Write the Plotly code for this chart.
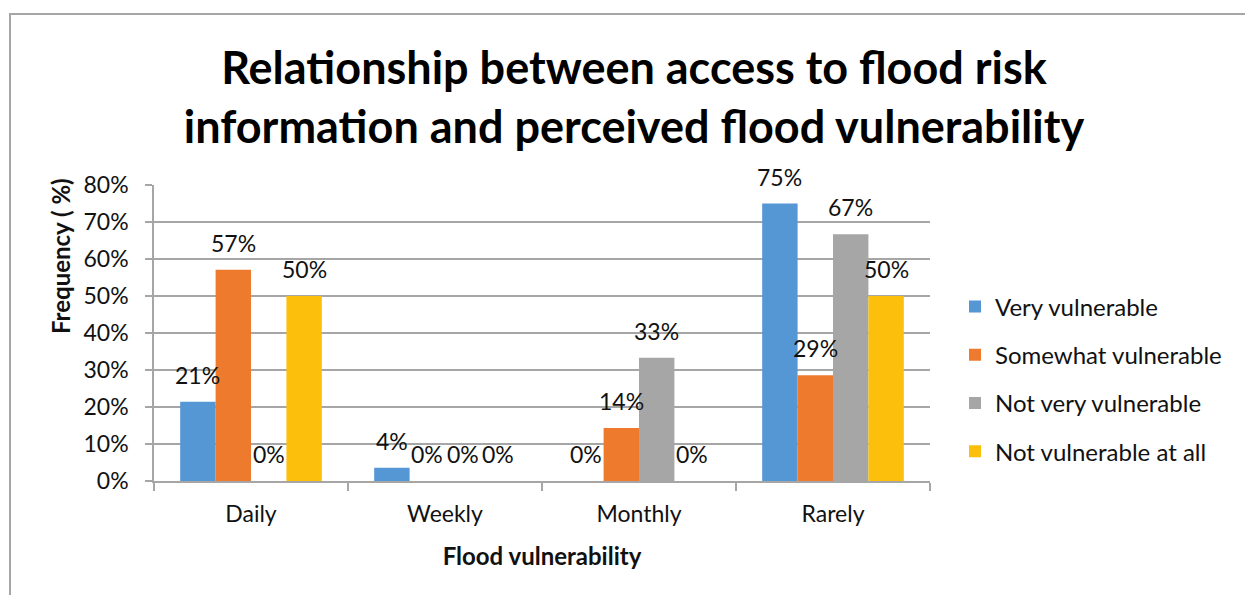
import plotly.graph_objects as go

# Access frequency categories and survey shares (percent of respondents)
categories = ["Daily", "Weekly", "Monthly", "Rarely"]
series_names = ["Very vulnerable", "Somewhat vulnerable", "Not very vulnerable", "Not vulnerable at all"]
very_vulnerable = [21.4, 3.6, 0.0, 75.0]
somewhat_vulnerable = [57.1, 0.0, 14.3, 28.6]
not_very_vulnerable = [0.0, 0.0, 33.3, 66.7]
not_vulnerable_at_all = [50.0, 0.0, 0.0, 50.0]
y_ticks = [0, 10, 20, 30, 40, 50, 60, 70, 80]
y_tick_labels = ["0%", "10%", "20%", "30%", "40%", "50%", "60%", "70%", "80%"]

series_values = [very_vulnerable, somewhat_vulnerable, not_very_vulnerable, not_vulnerable_at_all]
colors = ["#5596d4", "#ee7a2e", "#a6a6a6", "#fcbf0c"]

W, H = 1245, 595
M_L, M_R, M_T, M_B = 154, 315, 185, 114
PW, PH = W - M_L - M_R, H - M_T - M_B
BARGAP = 0.27
FONT = "Lato"
TXT = "#111111"


def px_to_paper_x(px):
    return (px - M_L) / PW


def px_to_paper_y(py):
    return (H - M_B - py) / PH


fig = go.Figure()
for i, (name, vals, col) in enumerate(zip(series_names, series_values, colors)):
    fig.add_trace(go.Bar(
        x=categories, y=vals, name=name,
        marker=dict(color=col, line=dict(width=0)),
        legendgroup=name,
    ))

# Value labels above each bar
n = len(series_values)
bar_w = (1 - BARGAP) / n
annotations = []
for k, vals in enumerate(series_values):
    for ci, v in enumerate(vals):
        annotations.append(dict(
            x=ci + (k - (n - 1) / 2) * bar_w, y=v, xref="x", yref="y",
            text=f"{round(v):.0f}%", showarrow=False, yshift=27,
            yanchor="middle", xanchor="center",
            font=dict(family=FONT, size=23, color=TXT),
        ))

# Y-axis title
annotations.append(dict(
    x=px_to_paper_x(60), y=px_to_paper_y(256), xref="paper", yref="paper",
    xanchor="center", yanchor="middle",
    text="<b>Frequency ( %)</b>", textangle=-90, showarrow=False,
    font=dict(family=FONT, size=24, color=TXT),
))

fig.update_layout(
    width=W, height=H,
    margin=dict(l=M_L, r=M_R, t=M_T, b=M_B, pad=0),
    paper_bgcolor="white", plot_bgcolor="white",
    barmode="group", bargap=BARGAP, bargroupgap=0,
    font=dict(family=FONT, size=23, color=TXT),
    title=dict(
        text="<b>Relationship between access to flood risk<br>information and perceived flood vulnerability</b>",
        x=634 / W, xanchor="center", xref="container",
        y=1 - 84 / H, yanchor="middle", yref="container",
        font=dict(family=FONT, size=45, color="#000000"),
    ),
    xaxis=dict(
        type="category", tickson="boundaries",
        ticks="outside", ticklen=8, tickcolor="#a6a6a6", tickwidth=1.5,
        showline=True, linecolor="#a6a6a6", linewidth=1.5,
        showgrid=False, tickfont=dict(family=FONT, size=23, color=TXT),
        ticklabelstandoff=12,
        title=dict(text="<b>Flood vulnerability</b>", standoff=22,
                   font=dict(family=FONT, size=24, color=TXT)),
    ),
    yaxis=dict(
        range=[0, 80], tickvals=y_ticks, ticktext=y_tick_labels,
        ticks="outside", ticklen=7, tickcolor="#a6a6a6", tickwidth=1.5,
        showline=True, linecolor="#a6a6a6", linewidth=1.5,
        showgrid=True, gridcolor="#a6a6a6", gridwidth=1.5,
        zeroline=False, tickfont=dict(family=FONT, size=23, color=TXT),
        ticklabelstandoff=12,
    ),
    legend=dict(
        x=px_to_paper_x(955), xanchor="left",
        y=px_to_paper_y(379), yanchor="middle",
        font=dict(family=FONT, size=24, color=TXT),
        tracegroupgap=14, bgcolor="rgba(0,0,0,0)",
    ),
    showlegend=True,
    annotations=annotations,
    shapes=[dict(
        type="rect", xref="paper", yref="paper", layer="above",
        x0=px_to_paper_x(10), x1=px_to_paper_x(1260),
        y0=px_to_paper_y(620), y1=px_to_paper_y(14),
        line=dict(color="#a6a6a6", width=2), fillcolor="rgba(0,0,0,0)",
    )],
)

fig.write_html("out.html")
